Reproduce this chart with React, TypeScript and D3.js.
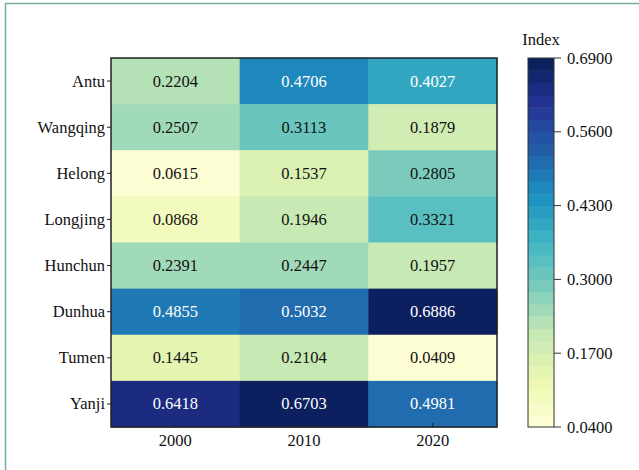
import React from "react";
import * as d3 from "d3";

const counties = ["Antu", "Wangqing", "Helong", "Longjing", "Hunchun", "Dunhua", "Tumen", "Yanji"];
const years = ["2000", "2010", "2020"];
const values2000 = [0.2204, 0.2507, 0.0615, 0.0868, 0.2391, 0.4855, 0.1445, 0.6418];
const values2010 = [0.4706, 0.3113, 0.1537, 0.1946, 0.2447, 0.5032, 0.2104, 0.6703];
const values2020 = [0.4027, 0.1879, 0.2805, 0.3321, 0.1957, 0.6886, 0.0409, 0.4981];
const colorTicks = [0.04, 0.17, 0.3, 0.43, 0.56, 0.69];
const vMin = 0.04;
const vMax = 0.69;
const nLevels = 30;

// ColorBrewer YlGnBu anchors, interpolated linearly and cut into discrete levels
const ylgnbu = ["#ffffd9", "#edf8b1", "#c7e9b4", "#7fcdbb", "#41b6c4", "#1d91c0", "#225ea8", "#253494", "#081d58"];
const smooth = d3.scaleLinear<string>()
  .domain(ylgnbu.map((_, i) => i / (ylgnbu.length - 1)))
  .range(ylgnbu)
  .interpolate(d3.interpolateRgb);
const levelColor = (v: number) => {
  const t = Math.max(0, Math.min(1, (v - vMin) / (vMax - vMin)));
  const k = Math.min(nLevels - 1, Math.floor(t * nLevels));
  return smooth((k + 0.5) / nLevels);
};

const W = 639;
const H = 470;
const plot = { left: 111, top: 58, right: 497, bottom: 427 };
const cbar = { left: 528, right: 554, top: 58, bottom: 427 };
const font = "'Liberation Serif', 'Times New Roman', serif";
const fs = 16.5;

export default function App() {
  const series = [values2000, values2010, values2020];
  const x = d3.scaleBand<string>().domain(years).range([plot.left, plot.right]);
  const y = d3.scaleBand<string>().domain(counties).range([plot.top, plot.bottom]);
  const cy = d3.scaleLinear().domain([vMin, vMax]).range([cbar.bottom, cbar.top]);
  const levels = d3.range(nLevels);

  return (
    <svg width={W} height={H} style={{ position: "absolute", left: 0, top: 0, background: "#fff" }}
      fontFamily={font}>
      <rect x={0} y={0} width={W} height={H} fill="#fff" />
      {/* figure frame */}
      <path d={`M5.5,${H + 2} L5.5,3.5 L${W + 2},3.5`} fill="none" stroke="#76ad9e" strokeWidth={1.5} />

      {/* heatmap cells */}
      {years.map((yr, j) =>
        counties.map((c, i) => {
          const v = series[j][i];
          return (
            <g key={yr + c}>
              <rect x={x(yr)!} y={y(c)!} width={x.bandwidth() + 0.5} height={y.bandwidth() + 0.5}
                fill={levelColor(v)} />
              <text x={x(yr)! + x.bandwidth() / 2} y={y(c)! + y.bandwidth() / 2 + 5.5}
                textAnchor="middle" fontSize={fs} fill={v > 0.37 ? "#ffffff" : "#111"}>
                {v.toFixed(4)}
              </text>
            </g>
          );
        })
      )}
      <rect x={plot.left} y={plot.top} width={plot.right - plot.left} height={plot.bottom - plot.top}
        fill="none" stroke="#222" strokeWidth={1.5} />

      {/* y axis */}
      {counties.map((c) => {
        const yy = y(c)! + y.bandwidth() / 2;
        return (
          <g key={c}>
            <line x1={plot.left - 4} x2={plot.left} y1={yy} y2={yy} stroke="#222" strokeWidth={1} />
            <text x={plot.left - 6} y={yy + 5.5} textAnchor="end" fontSize={fs} fill="#111">{c}</text>
          </g>
        );
      })}

      {/* x axis */}
      {years.map((yr) => {
        const xx = x(yr)! + x.bandwidth() / 2;
        return (
          <g key={yr}>
            <line x1={xx} x2={xx} y1={plot.bottom - 4} y2={plot.bottom} stroke="#222" strokeWidth={1} />
            <text x={xx} y={446} textAnchor="middle" fontSize={fs} fill="#111">{yr}</text>
          </g>
        );
      })}

      {/* colorbar */}
      {levels.map((k) => {
        const v0 = vMin + (k / nLevels) * (vMax - vMin);
        const v1 = vMin + ((k + 1) / nLevels) * (vMax - vMin);
        return (
          <rect key={k} x={cbar.left} y={cy(v1)} width={cbar.right - cbar.left} height={cy(v0) - cy(v1) + 0.5}
            fill={smooth((k + 0.5) / nLevels)} />
        );
      })}
      <rect x={cbar.left} y={cbar.top} width={cbar.right - cbar.left} height={cbar.bottom - cbar.top}
        fill="none" stroke="#333" strokeWidth={1} />
      {colorTicks.map((t) => (
        <g key={t}>
          <line x1={cbar.right} x2={cbar.right + 7} y1={cy(t)} y2={cy(t)} stroke="#333" strokeWidth={1} />
          <text x={cbar.right + 13} y={cy(t) + 5.5} fontSize={fs} fill="#111">{t.toFixed(4)}</text>
        </g>
      ))}
      <text x={(cbar.left + cbar.right) / 2} y={45} textAnchor="middle" fontSize={fs} fill="#111">Index</text>
    </svg>
  );
}
